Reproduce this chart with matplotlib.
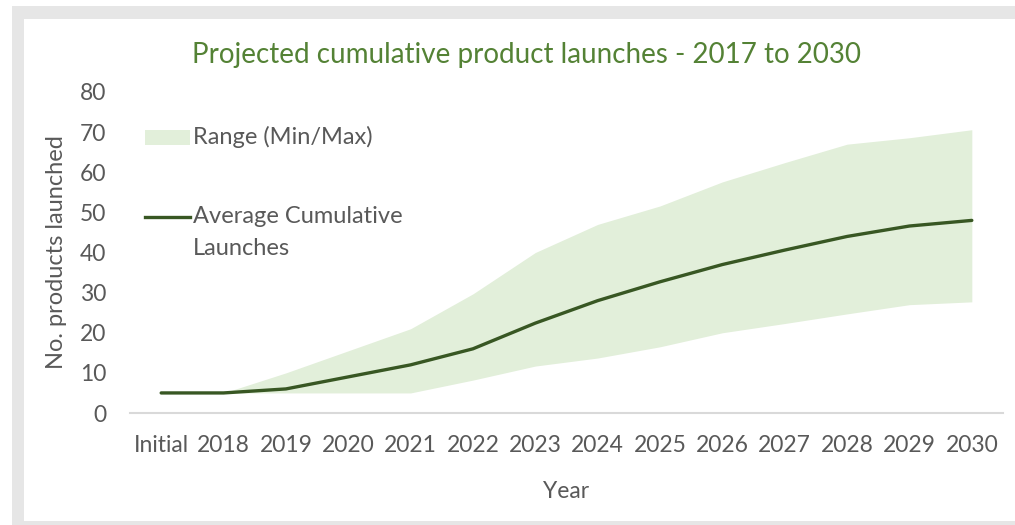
import matplotlib.pyplot as plt
from matplotlib.patches import Rectangle
from matplotlib.lines import Line2D

plt.rcParams['font.family'] = ['Lato', 'DejaVu Sans']

# data
years = ["Initial", "2018", "2019", "2020", "2021", "2022", "2023", "2024",
         "2025", "2026", "2027", "2028", "2029", "2030"]
avg_launches = [5, 5, 6, 9, 12, 16, 22.4, 28, 32.7, 37, 40.6, 44, 46.6, 48]
max_launches = [5, 5, 10, 15.5, 21, 29.7, 40, 47, 51.6, 57.6, 62.4, 67, 68.6, 70.6]
min_launches = [5, 5, 5, 5, 5, 8.2, 11.7, 13.7, 16.5, 20, 22.3, 24.7, 27, 27.7]

txt = "#595959"
fill_col = "#e2efda"
line_col = "#385723"
fs = 16.5

fig = plt.figure(figsize=(10.15, 5.25), dpi=100)
# grey frame round a white panel
fig.patches.append(Rectangle((12/1015, 0), 1, 519/525, transform=fig.transFigure,
                             facecolor="#e6e6e6", edgecolor="none", zorder=-2))
fig.patches.append(Rectangle((24/1015, 4/525), 1, 502/525, transform=fig.transFigure,
                             facecolor="white", edgecolor="none", zorder=-1))

ax = fig.add_axes([130/1015, 1-413/525, 873/1015, 321/525])
ax.set_facecolor("none")
x = list(range(len(years)))
ax.fill_between(x, min_launches, max_launches, color=fill_col, linewidth=0)
ax.plot(x, avg_launches, color=line_col, linewidth=2.4, solid_capstyle="round")

ax.set_xlim(-0.5, len(years)-0.5)
ax.set_ylim(0, 80)
ax.set_yticks(range(0, 81, 10))
ax.set_xticks(x)
ax.set_xticklabels(years)
for s in ["top", "right", "left"]:
    ax.spines[s].set_visible(False)
ax.spines["bottom"].set_color("#d9d9d9")
ax.spines["bottom"].set_linewidth(1.5)
ax.tick_params(axis="both", length=0, labelsize=fs, colors=txt)
ax.tick_params(axis="y", pad=17)
ax.tick_params(axis="x", pad=16)

ax.set_ylabel("No. products launched", fontsize=17, color=txt, labelpad=9)
ax.set_xlabel("Year", fontsize=fs, color=txt, labelpad=18)

fig.text(526/1015, 1-55/525, "Projected cumulative product launches - 2017 to 2030",
         ha="center", va="center", fontsize=20, color="#548235")

# legend drawn like the source
ax.add_patch(Rectangle((0.0172, 0.835), 0.0515, 0.047, transform=ax.transAxes,
                       facecolor=fill_col, edgecolor="none"))
ax.text(0.0722, 0.860, "Range (Min/Max)", transform=ax.transAxes, va="center",
        fontsize=17, color=txt)
ax.add_line(Line2D([0.0172, 0.0687], [0.611, 0.611], transform=ax.transAxes,
                   color=line_col, linewidth=2.4))
ax.text(0.0722, 0.611, "Average Cumulative", transform=ax.transAxes, va="center",
        fontsize=17, color=txt)
ax.text(0.0722, 0.514, "Launches", transform=ax.transAxes, va="center",
        fontsize=17, color=txt)

fig.savefig("out.png", dpi=100)
